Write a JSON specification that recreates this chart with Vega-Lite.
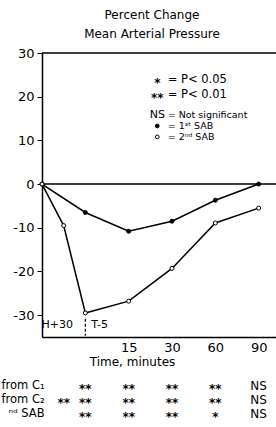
{
  "$schema": "https://vega.github.io/schema/vega-lite/v6.json",
  "width": 234,
  "height": 284,
  "autosize": {"type": "none"},
  "padding": {"left": 42, "top": 53, "right": 0, "bottom": 90},
  "background": "white",
  "config": {
    "view": {"stroke": null},
    "font": "DejaVu Sans",
    "axis": {"domainColor": "black", "tickColor": "black", "labelColor": "black", "titleColor": "black", "grid": false, "labelFont": "DejaVu Sans", "titleFont": "DejaVu Sans"}
  },
  "title": {
    "text": ["Percent  Change", "Mean  Arterial  Pressure"],
    "fontSize": 12,
    "fontWeight": "normal",
    "font": "DejaVu Sans",
    "lineHeight": 19,
    "offset": 6,
    "dx": -7,
    "anchor": "middle",
    "frame": "group",
    "color": "black"
  },
  "encoding": {
    "x": {
      "field": "x", "type": "quantitative",
      "scale": {"domain": [0, 5.4], "nice": false, "zero": false},
      "axis": {
        "values": [2, 3, 4, 5],
        "labelExpr": "datum.value == 2 ? '15' : datum.value == 3 ? '30' : datum.value == 4 ? '60' : '90'",
        "ticks": false,
        "labelFontSize": 13,
        "labelPadding": 4,
        "title": "Time,  minutes",
        "titleFontSize": 12,
        "titleFontWeight": "normal",
        "titlePadding": 2,
        "titleX": 90,
        "domainWidth": 1.5
      }
    },
    "y": {
      "field": "y", "type": "quantitative",
      "scale": {"domain": [-35, 30], "nice": false, "zero": false},
      "axis": {
        "values": [-30, -20, -10, 0, 10, 20, 30],
        "labelExpr": "datum.value < 0 ? '-' + abs(datum.value) : '' + datum.value",
        "tickSize": 5,
        "labelFontSize": 13,
        "labelFontWeight": 500,
        "labelPadding": 3,
        "title": null,
        "domainWidth": 1.5
      }
    }
  },
  "layer": [
    {
      "data": {"values": [{"x": 0, "x2": 5.4, "y": 0}, {"x": 0, "x2": 5.4, "y": 30}]},
      "mark": {"type": "rule", "color": "black", "strokeWidth": 1.5},
      "encoding": {"x2": {"field": "x2"}}
    },
    {
      "data": {"values": [
        {"x": 0, "y": 0, "s": "1st"}, {"x": 1, "y": -6.5, "s": "1st"}, {"x": 2, "y": -10.8, "s": "1st"},
        {"x": 3, "y": -8.5, "s": "1st"}, {"x": 4, "y": -3.7, "s": "1st"}, {"x": 5, "y": 0, "s": "1st"},
        {"x": 0, "y": 0, "s": "2nd"}, {"x": 0.5, "y": -9.5, "s": "2nd"}, {"x": 1, "y": -29.5, "s": "2nd"},
        {"x": 2, "y": -26.8, "s": "2nd"}, {"x": 3, "y": -19.3, "s": "2nd"}, {"x": 4, "y": -8.9, "s": "2nd"},
        {"x": 5, "y": -5.5, "s": "2nd"}
      ]},
      "layer": [
        {
          "mark": {"type": "line", "color": "black", "strokeWidth": 1.5},
          "encoding": {"detail": {"field": "s"}}
        },
        {
          "mark": {"type": "point", "filled": true, "stroke": "black", "strokeWidth": 1, "size": 16, "opacity": 1},
          "encoding": {"fill": {"field": "s", "type": "nominal", "scale": {"domain": ["1st", "2nd"], "range": ["black", "white"]}, "legend": null}}
        }
      ]
    },
    {
      "data": {"values": [{"x": 2.66, "y": 13.3, "s": "1st"}, {"x": 2.66, "y": 10.8, "s": "2nd"}]},
      "mark": {"type": "point", "filled": true, "stroke": "black", "strokeWidth": 1, "size": 14, "opacity": 1},
      "encoding": {"fill": {"field": "s", "type": "nominal", "legend": null}}
    },
    {
      "data": {"values": [
        {"x": 2.66, "y": 23.8, "t": "*"}, {"x": 2.66, "y": 20.4, "t": "**"}
      ]},
      "mark": {"type": "text", "align": "center", "baseline": "middle", "fontSize": 12, "fontWeight": "bold", "dy": 3, "color": "black"},
      "encoding": {"text": {"field": "t"}}
    },
    {
      "data": {"values": [{"x": 2.66, "y": 15.8, "t": "NS"}]},
      "mark": {"type": "text", "align": "center", "baseline": "middle", "fontSize": 11, "color": "black"},
      "encoding": {"text": {"field": "t"}}
    },
    {
      "data": {"values": [
        {"x": 2.9, "y": 23.8, "t": "= P< 0.05"}, {"x": 2.9, "y": 20.4, "t": "= P< 0.01"}
      ]},
      "mark": {"type": "text", "align": "left", "baseline": "middle", "fontSize": 11.5, "color": "black"},
      "encoding": {"text": {"field": "t"}}
    },
    {
      "data": {"values": [
        {"x": 2.9, "y": 15.8, "t": "= Not  significant"}, {"x": 2.9, "y": 13.3, "t": "= 1ˢᵗ SAB"}, {"x": 2.9, "y": 10.8, "t": "= 2ⁿᵈ SAB"}
      ]},
      "mark": {"type": "text", "align": "left", "baseline": "middle", "fontSize": 9.5, "color": "black"},
      "encoding": {"text": {"field": "t"}}
    },
    {
      "data": {"values": [{"x": 0.35, "y": -32.3, "t": "H+30"}, {"x": 1.33, "y": -32.3, "t": "T-5"}]},
      "mark": {"type": "text", "align": "center", "baseline": "middle", "fontSize": 11, "color": "black"},
      "encoding": {"text": {"field": "t"}}
    },
    {
      "data": {"values": [{"x": 1, "y": -30.8, "y2": -34.7}]},
      "mark": {"type": "rule", "color": "black", "strokeWidth": 1.2, "strokeDash": [3, 2]},
      "encoding": {"y2": {"field": "y2"}}
    },
    {
      "data": {"values": [
        {"x": 0.06, "y": -46.2, "t": "from C₁"}, {"x": 0.06, "y": -49.4, "t": "from C₂"}, {"x": 0.06, "y": -52.6, "t": "ⁿᵈ SAB"}
      ]},
      "mark": {"type": "text", "align": "right", "baseline": "middle", "fontSize": 11.5, "color": "black"},
      "encoding": {"text": {"field": "t"}}
    },
    {
      "data": {"values": [
        {"x": 1, "y": -46.2, "t": "**"}, {"x": 2, "y": -46.2, "t": "**"}, {"x": 3, "y": -46.2, "t": "**"}, {"x": 4, "y": -46.2, "t": "**"},
        {"x": 0.5, "y": -49.4, "t": "**"}, {"x": 1, "y": -49.4, "t": "**"}, {"x": 2, "y": -49.4, "t": "**"}, {"x": 3, "y": -49.4, "t": "**"}, {"x": 4, "y": -49.4, "t": "**"},
        {"x": 1, "y": -52.6, "t": "**"}, {"x": 2, "y": -52.6, "t": "**"}, {"x": 3, "y": -52.6, "t": "**"}, {"x": 4, "y": -52.6, "t": "*"}
      ]},
      "mark": {"type": "text", "align": "center", "baseline": "middle", "fontSize": 12, "fontWeight": "bold", "dy": 3, "color": "black"},
      "encoding": {"text": {"field": "t"}}
    },
    {
      "data": {"values": [
        {"x": 5, "y": -46.2, "t": "NS"}, {"x": 5, "y": -49.4, "t": "NS"}, {"x": 5, "y": -52.6, "t": "NS"}
      ]},
      "mark": {"type": "text", "align": "center", "baseline": "middle", "fontSize": 12, "color": "black"},
      "encoding": {"text": {"field": "t"}}
    }
  ]
}
